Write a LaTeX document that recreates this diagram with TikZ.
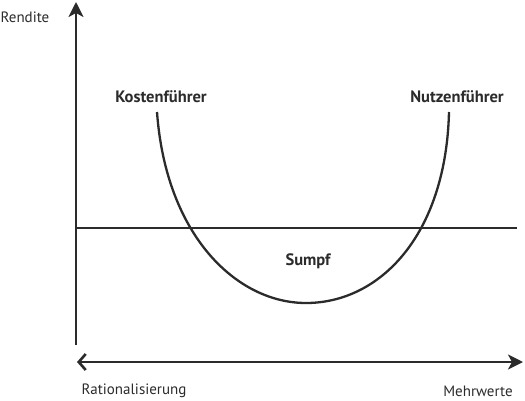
\documentclass[tikz,border=0pt]{standalone}
\usepackage{fontspec}
\setmainfont{PT Sans}
\usetikzlibrary{arrows.meta}
\definecolor{ink}{HTML}{2B2B2B}
\begin{document}
\begin{tikzpicture}[x=1pt,y=-1pt,
  axis/.style={draw=ink,line width=2.6pt},
  thin/.style={draw=ink,line width=1.3pt},
  curve/.style={draw=ink,line width=2.3pt},
  lbl/.style={text=ink,font=\fontsize{15}{17}\selectfont,inner sep=0pt},
  blbl/.style={text=ink,font=\fontsize{16.5}{18}\bfseries\selectfont,inner sep=0pt}]
\useasboundingbox (0,0) rectangle (525,400);
\coordinate (ybot) at (76,345);
\coordinate (ytop) at (76,2);
\coordinate (hl) at (76,228);
\coordinate (hr) at (517,228);
\coordinate (bl) at (77,362);
\coordinate (br) at (523,362);
\draw[axis,-{Stealth[length=15pt,width=15pt,inset=4pt]}] (ybot) -- (ytop);
\draw[thin] (hl) -- (hr);
\draw[axis,{Straight Barb[length=7pt,width=16pt,line width=2.6pt]}-{Stealth[length=15pt,width=15pt,inset=4pt]}] (bl) -- (br);
\coordinate (c1) at (157,112);
\coordinate (c2) at (306,303);
\coordinate (c3) at (449,112);
\draw[curve] (c1) .. controls (166,236) and (237,303) .. (c2) .. controls (380,303) and (446,235) .. (c3);
\node[lbl] (rendite) at (25,17) {Rendite};
\node[blbl] (kosten) at (161,97) {Kostenführer};
\node[blbl] (nutzen) at (457,97) {Nutzenführer};
\node[blbl] (sumpf) at (308,261) {Sumpf};
\node[lbl] (rat) at (134,391) {Rationalisierung};
\node[lbl] (mehr) at (478,391) {Mehrwerte};
\end{tikzpicture}
\end{document}
